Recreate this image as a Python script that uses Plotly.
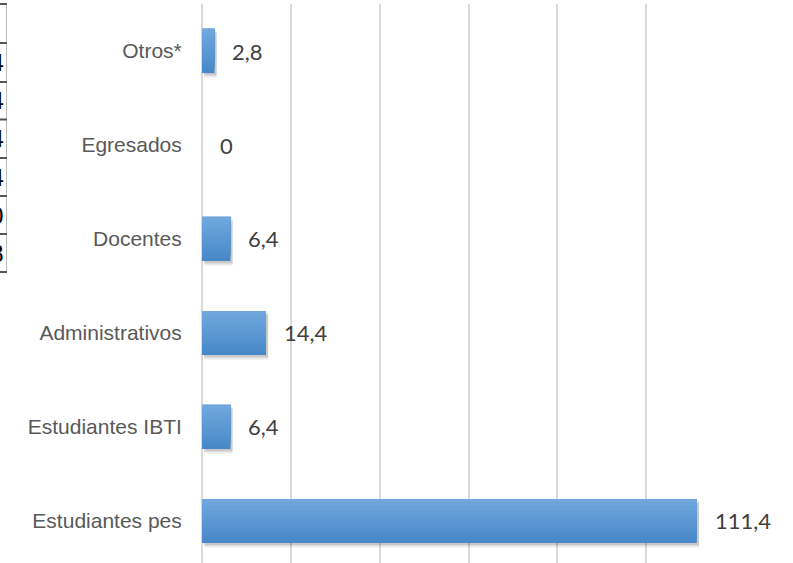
"""Horizontal bar chart: grupos (Otros, Egresados, Docentes, ...)"""

import plotly.graph_objects as go

# data (bottom to top)
categorias = ['Estudiantes pes', 'Estudiantes IBTI', 'Administrativos',
              'Docentes', 'Egresados', 'Otros*']
valores = [111.4, 6.4, 14.4, 6.4, 0, 2.8]
etiquetas = ['111,4', '6,4', '14,4', '6,4', '0', '2,8']

# last digits of the table cut off at the left edge (top to bottom)
tabla_digitos = ['4', '4', '4', '4', '0', '8']

W, H = 793, 563
L, T = 202, 4
PW = 533          # plot width (0..120)
PH = H - T        # plot height

BAR_W = 0.47
GRID = '#D9D9D9'
TOP_RGB = (0x70, 0xA8, 0xDD)
BOT_RGB = (0x48, 0x88, 0xC8)
N_STRIPS = 12


def px_x(px):
    return (px - L) / PW


def px_y(py):
    return (H - py) / PH


fig = go.Figure()

# soft shadow under the bars
for dy, alpha in [(0.05, 0.06), (0.035, 0.08), (0.02, 0.09)]:
    fig.add_trace(go.Bar(
        x=valores, y=categorias, orientation='h', base=0.5,
        width=BAR_W, offset=-BAR_W / 2 - dy,
        marker=dict(color='rgba(0,0,0,%s)' % alpha, line=dict(width=0)),
        hoverinfo='skip',
    ))

# bars drawn as stacked layers (bottom colour first) for the vertical gradient
for i in range(N_STRIPS):
    t = i / (N_STRIPS - 1)
    rgb = tuple(round(b + (a - b) * t) for a, b in zip(TOP_RGB, BOT_RGB))
    start = i * BAR_W / N_STRIPS
    fig.add_trace(go.Bar(
        x=valores, y=categorias, orientation='h',
        width=BAR_W - start,
        offset=-BAR_W / 2 + start,
        marker=dict(color='rgb(%d,%d,%d)' % rgb, line=dict(width=0)),
        hoverinfo='skip',
    ))

# data labels next to each bar
for cat, val, txt in zip(categorias, valores, etiquetas):
    fig.add_annotation(
        x=val, y=cat, xref='x', yref='y', text=txt, showarrow=False,
        xanchor='left', yanchor='middle', xshift=16,
        font=dict(family='Lato', size=22, color='#404040'),
    )

# left table fragment: vertical border and row lines
shapes = [dict(type='line', xref='paper', yref='paper',
               x0=px_x(6.5), x1=px_x(6.5), y0=px_y(4), y1=px_y(272),
               line=dict(color='#BBBBBB', width=1))]
row_lines = [4, 43, 82, 119.5, 158, 196, 234, 272]
for ry in row_lines:
    shapes.append(dict(type='line', xref='paper', yref='paper',
                       x0=px_x(0), x1=px_x(7), y0=px_y(ry), y1=px_y(ry),
                       line=dict(color='#555555', width=2)))
fig.update_layout(shapes=shapes)

for i, d in enumerate(tabla_digitos):
    cy = (row_lines[i + 1] + row_lines[i + 2]) / 2
    fig.add_annotation(
        x=px_x(5.5), y=px_y(cy), xref='paper', yref='paper', text=d,
        showarrow=False, xanchor='right', yanchor='middle',
        font=dict(family='Liberation Serif', size=25, color='#000000'),
    )

fig.update_layout(
    width=W, height=H,
    barmode='overlay',
    margin=dict(l=L, r=W - L - PW, t=T, b=0, pad=0),
    paper_bgcolor='white', plot_bgcolor='white',
    showlegend=False,
    xaxis=dict(range=[0, 120], dtick=20, showticklabels=False,
               showgrid=True, gridcolor=GRID, gridwidth=1.6,
               zeroline=True, zerolinecolor=GRID, zerolinewidth=1.6,
               showline=False, fixedrange=True),
    yaxis=dict(type='category', categoryorder='array', categoryarray=categorias,
               range=[-0.447, 5.5], showgrid=False, zeroline=False,
               showline=False, ticks='outside', ticklen=15,
               tickcolor='rgba(0,0,0,0)',
               tickfont=dict(family='Liberation Sans', size=21, color='#595959'),
               fixedrange=True),
)

fig.write_html('out.html', config={'displayModeBar': False},
               post_script="document.body.style.margin='0';")
